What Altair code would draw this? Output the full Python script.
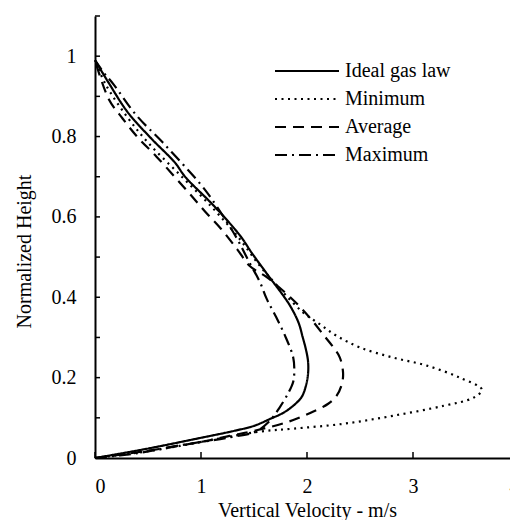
import altair as alt
import pandas as pd

series_names = ["Ideal gas law", "Minimum", "Average", "Maximum"]

ideal_x = [0, 0.47, 0.94, 1.32, 1.5, 1.65, 1.78, 1.87, 1.95, 1.99, 2.01, 2.01, 1.99, 1.96, 1.92, 1.84, 1.76, 1.66, 1.59, 1.48, 1.37, 1.12, 0.85, 0.755, 0.535, 0.31, 0.126, 0]
ideal_y = [0, 0.022, 0.047, 0.068, 0.08, 0.097, 0.113, 0.13, 0.152, 0.18, 0.21, 0.24, 0.27, 0.3, 0.337, 0.379, 0.41, 0.445, 0.47, 0.51, 0.553, 0.628, 0.70, 0.735, 0.794, 0.86, 0.935, 0.99]

min_x = [0, 0.4, 0.8, 1.2, 1.56, 1.87, 2.34, 2.81, 3.29, 3.57, 3.65, 3.44, 3.13, 2.81, 2.5, 2.28, 2.12, 1.965, 1.8, 1.68, 1.55, 1.35, 1.1, 0.8, 0.5, 0.3, 0.1, 0]
min_y = [0, 0.013, 0.03, 0.05, 0.066, 0.073, 0.085, 0.105, 0.13, 0.15, 0.17, 0.2, 0.23, 0.25, 0.275, 0.304, 0.333, 0.362, 0.405, 0.44, 0.48, 0.55, 0.625, 0.705, 0.785, 0.85, 0.93, 0.99]

avg_x = [0, 0.5, 1.0, 1.27, 1.49, 1.81, 2.03, 2.2, 2.28, 2.33, 2.34, 2.31, 2.25, 2.16, 2.04, 1.92, 1.78, 1.62, 1.46, 1.34, 1.19, 1.04, 0.875, 0.58, 0.41, 0.26, 0.13, 0]
avg_y = [0, 0.018, 0.04, 0.055, 0.067, 0.089, 0.112, 0.135, 0.155, 0.185, 0.213, 0.25, 0.275, 0.305, 0.345, 0.38, 0.415, 0.45, 0.478, 0.52, 0.57, 0.613, 0.663, 0.75, 0.796, 0.845, 0.893, 0.99]

max_x = [0, 0.4, 0.79, 1.26, 1.52, 1.64, 1.74, 1.83, 1.87, 1.88, 1.87, 1.8, 1.71, 1.62, 1.557, 1.45, 1.32, 1.1, 1.0, 0.88, 0.64, 0.39, 0.175, 0.08, 0]
max_y = [0, 0.012, 0.031, 0.051, 0.066, 0.09, 0.125, 0.165, 0.19, 0.215, 0.25, 0.3, 0.35, 0.396, 0.437, 0.49, 0.555, 0.645, 0.68, 0.716, 0.785, 0.853, 0.93, 0.96, 0.99]

x_ticks = [0, 1, 2, 3, 4]
y_ticks = [0, 0.1, 0.2, 0.3, 0.4, 0.5, 0.6, 0.7, 0.8, 0.9, 1.0, 1.1]
y_labels = [0, 0.2, 0.4, 0.6, 0.8, 1]

rows = []
for name, xs, ys in [
    (series_names[0], ideal_x, ideal_y),
    (series_names[1], min_x, min_y),
    (series_names[2], avg_x, avg_y),
    (series_names[3], max_x, max_y),
]:
    for i, (xv, yv) in enumerate(zip(xs, ys)):
        rows.append({"series": name, "x": xv, "y": yv, "idx": i})
df = pd.DataFrame(rows)
legend_df = pd.DataFrame({"series": series_names, "row": list(range(len(series_names)))})

VIEW_W, PLOT_W, H = 415, 424, 442
FONT = "Liberation Serif"

xscale = alt.Scale(domain=[0, 4], nice=False, zero=False, range=[0, PLOT_W])
yscale = alt.Scale(domain=[0, 1.1], nice=False, zero=False)
xaxis = alt.Axis(values=x_ticks, format="d", labelPadding=18,
                 titleBaseline="alphabetic", titleY=58)
yaxis = alt.Axis(values=y_labels, format="~g", labelPadding=19, titlePadding=17, titleY=235)
XT = "Vertical Velocity - m/s"
YT = "Normalized Height"
dash_scale = alt.Scale(domain=series_names, range=[[1, 0], [2, 4.5], [11, 7], [12, 5, 2, 5]])

lines = alt.Chart(df).mark_line(interpolate="catmull-rom", color="black", strokeWidth=2.2).encode(
    x=alt.X("x:Q", scale=xscale, title=XT, axis=xaxis),
    y=alt.Y("y:Q", scale=yscale, title=YT, axis=yaxis),
    strokeDash=alt.StrokeDash("series:N", scale=dash_scale, legend=None),
    detail="series:N",
    order="idx:Q",
)

yt = alt.Chart(pd.DataFrame({"y": y_ticks})).mark_rule(color="black", strokeWidth=1.5).encode(
    y=alt.Y("y:Q", scale=yscale, title=YT, axis=yaxis),
    x=alt.value(0), x2=alt.value(5),
)
xt = alt.Chart(pd.DataFrame({"x": x_ticks})).mark_rule(color="black", strokeWidth=1.5).encode(
    x=alt.X("x:Q", scale=xscale, title=XT, axis=xaxis),
    y=alt.value(H), y2=alt.value(H - 6),
)

# legend drawn in the upper right of the plot
leg_base = alt.Chart(legend_df).transform_calculate(py="55 + 28 * datum.row")
leg_lines = leg_base.mark_rule(color="black", strokeWidth=2.2).encode(
    x=alt.value(180), x2=alt.value(244),
    y=alt.Y("py:Q", scale=None),
    strokeDash=alt.StrokeDash("series:N", scale=dash_scale, legend=None),
)
leg_text = leg_base.mark_text(align="left", baseline="middle", font=FONT, fontSize=20, color="black").encode(
    x=alt.value(250),
    y=alt.Y("py:Q", scale=None),
    text="series:N",
)

chart = alt.layer(lines, yt, xt, leg_lines, leg_text).properties(
    width=VIEW_W, height=H,
    autosize=alt.AutoSizeParams(type="none"),
    padding={"left": 87, "top": 8, "right": 0, "bottom": 62},
).configure_axis(
    domainColor="black", domainWidth=2, grid=False, ticks=False, tickSize=0,
    labelFont=FONT, labelFontSize=20, labelColor="black",
    titleFont=FONT, titleFontSize=20, titleFontWeight="normal", titleColor="black",
).configure_view(stroke=None)

chart.save("out.html", embed_options={"renderer": "svg", "actions": False})
